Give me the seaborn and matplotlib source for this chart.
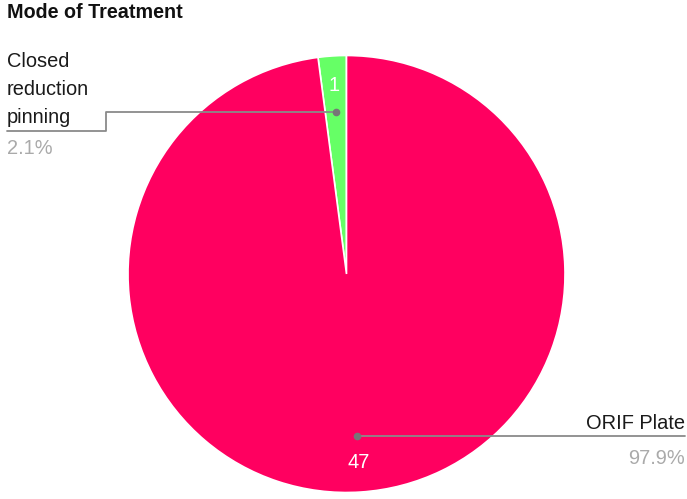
import numpy as np
import matplotlib
matplotlib.use("Agg")
import matplotlib.pyplot as plt
from matplotlib.lines import Line2D
import seaborn as sns

labels = ["Closed reduction pinning", "ORIF Plate"]
label_lines = ["Closed\nreduction\npinning", "ORIF Plate"]
values = [1, 47]
colors = ["#66ff66", "#ff0060"]
title = "Mode of Treatment"

sns.set_theme(style="white")
plt.rcParams['font.family'] = ['Liberation Sans', 'DejaVu Sans']

W, H = 687, 499
fig = plt.figure(figsize=(W / 100, H / 100), dpi=100)
CX, CY, R = 346.5, 274, 218.5

def fx(x):
    return x / W

def fy(y):
    return 1 - y / H

ax = fig.add_axes([fx(CX - R), fy(CY + R), 2 * R / W, 2 * R / H])
wedges, _ = ax.pie(values, colors=colors, startangle=90, counterclock=True,
                   radius=1, wedgeprops=dict(edgecolor="white", linewidth=1.2))
ax.set_xlim(-1, 1)
ax.set_ylim(-1, 1)
ax.set_aspect("equal")
ax.axis("off")

total = sum(values)
pcts = [v / total * 100 for v in values]

def to_px(r, ang):
    a = np.deg2rad(ang)
    return CX + R * r * np.cos(a), CY - R * r * np.sin(a)

fs = 14.4
grey = "#8a8a8a"
for i, w in enumerate(wedges):
    mid = (w.theta1 + w.theta2) / 2
    vx, vy = to_px(0.865, mid)
    fig.text(fx(vx), fy(vy), str(values[i]), color="white", fontsize=fs,
             ha="center", va="center")
    dx, dy = to_px(0.745, mid)
    if i == 0:
        xs = [dx, 106, 106, 7]
        ys = [dy, dy, 131, 131]
        fig.add_artist(Line2D([fx(x) for x in xs], [fy(y) for y in ys],
                              color=grey, lw=1.3, transform=fig.transFigure))
        fig.text(fx(7), fy(127), label_lines[i], fontsize=fs, color="#1a1a1a",
                 ha="left", va="bottom", linespacing=1.6)
        fig.text(fx(7), fy(149), f"{pcts[i]:.1f}%", fontsize=fs, color="#aaaaaa",
                 ha="left", va="center")
    else:
        xs = [dx, 685]
        ys = [dy, dy]
        fig.add_artist(Line2D([fx(x) for x in xs], [fy(y) for y in ys],
                              color=grey, lw=1.3, transform=fig.transFigure))
        fig.text(fx(685), fy(433), label_lines[i], fontsize=fs, color="#1a1a1a",
                 ha="right", va="bottom")
        fig.text(fx(685), fy(458), f"{pcts[i]:.1f}%", fontsize=fs, color="#aaaaaa",
                 ha="right", va="center")
    fig.add_artist(Line2D([fx(dx)], [fy(dy)], marker="o", markersize=4.5,
                          color="#777777", transform=fig.transFigure))

fig.text(fx(7), fy(12), title, fontsize=14.2, fontweight="bold", color="#111111",
         ha="left", va="center")

fig.savefig("out.png", dpi=100)
